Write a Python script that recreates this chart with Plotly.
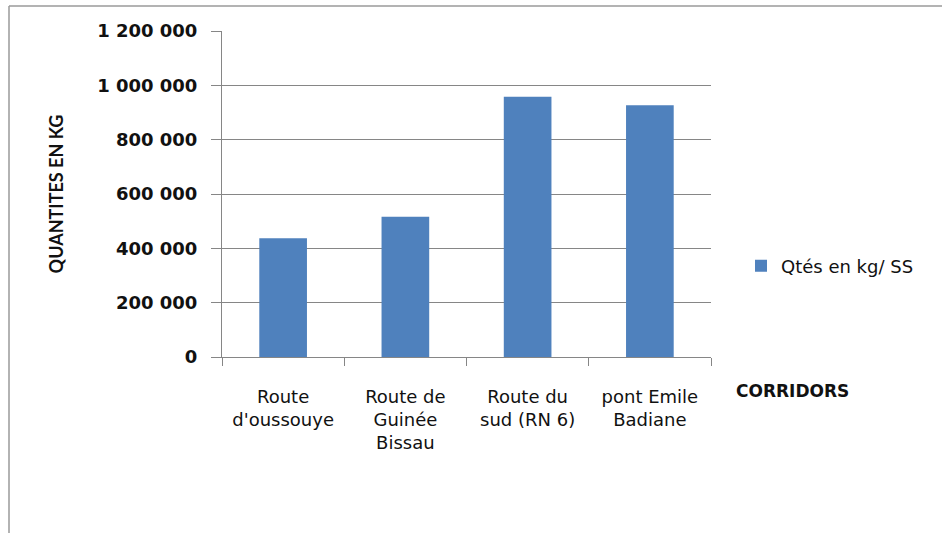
import plotly.graph_objects as go

categories = ["Route<br>d'oussouye", "Route de<br>Guinée<br>Bissau", "Route du<br>sud (RN 6)", "pont Emile<br>Badiane"]
values = [437000, 516000, 958000, 927000]
series_name = "Qtés en kg/ SS"
y_ticks = [0, 200000, 400000, 600000, 800000, 1000000, 1200000]

W, H = 942, 533
L, R, T, B = 222, 231, 31, 176
pw, ph = W - L - R, H - T - B

def px(x):
    return (x - L) / pw

def py(y):
    return (H - B - y) / ph

font = "'DejaVu Sans', sans-serif"
title_font = "Lato, sans-serif"

fig = go.Figure()
fig.add_trace(go.Bar(x=categories, y=values, name=series_name,
                     marker=dict(color="#4F81BD", line=dict(width=0)),
                     width=0.39))

fig.update_layout(
    width=W, height=H,
    margin=dict(l=L, r=R, t=T, b=B),
    paper_bgcolor="white", plot_bgcolor="white",
    separators=", ",
    font=dict(family=font, color="#111111"),
    showlegend=True,
    legend=dict(x=px(741), y=py(266), xanchor="left", yanchor="middle",
                font=dict(size=18, family=font, color="#111111"),
                itemwidth=30, bgcolor="rgba(0,0,0,0)"),
    xaxis=dict(showgrid=False, showline=True, linecolor="#868686", linewidth=1,
               ticks="outside", tickson="boundaries", ticklen=8, tickcolor="#868686",
               tickfont=dict(size=18, family=font, color="#111111"),
               ticklabelstandoff=23,
               range=[-0.5, 3.5]),
    yaxis=dict(range=[0, 1200000], tickvals=y_ticks, tickformat=",d",
               showgrid=True, gridcolor="#868686", gridwidth=1,
               showline=True, linecolor="#868686", linewidth=1,
               ticks="outside", ticklen=10, tickcolor="#868686",
               tickfont=dict(size=18, family=font, color="#111111", weight="bold"),
               ticklabelstandoff=10,
               zeroline=False,
               title=dict(text="QUANTITES EN KG", standoff=28,
                          font=dict(size=18, family=title_font, color="#111111", weight="bold"))),
    bargap=0.6,
)

fig.add_annotation(text="<b>CORRIDORS</b>", xref="paper", yref="paper",
                   x=px(734), y=py(391), xanchor="left", yanchor="middle",
                   showarrow=False, font=dict(size=17, family=font, color="#111111"))

# outer chart border (top and left visible)
fig.add_shape(type="line", xref="paper", yref="paper",
              x0=px(9), y0=py(6), x1=px(945), y1=py(6),
              line=dict(color="#9a9a9a", width=1.5))
fig.add_shape(type="line", xref="paper", yref="paper",
              x0=px(9), y0=py(6), x1=px(9), y1=py(540),
              line=dict(color="#9a9a9a", width=1.5))

fig.write_html("out.html", config={"displayModeBar": False},
               post_script="document.body.style.margin='0';")
